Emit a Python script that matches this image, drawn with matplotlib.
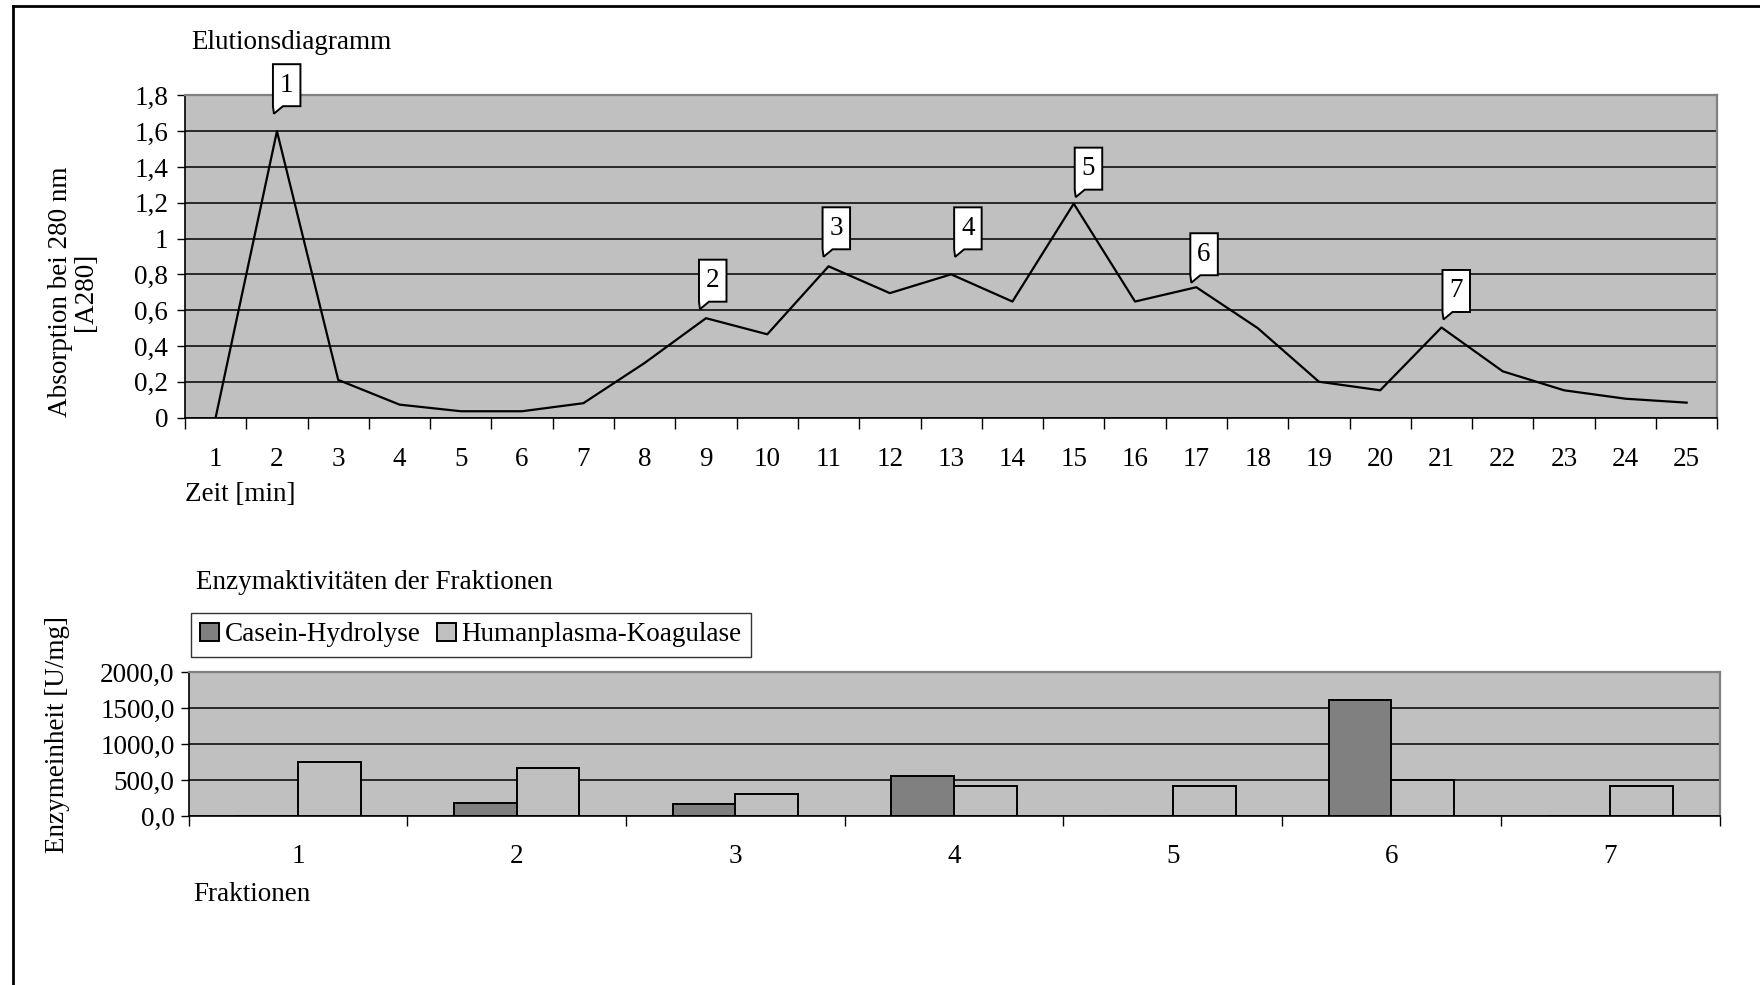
import numpy as np
import matplotlib
matplotlib.use('Agg')
import matplotlib.pyplot as plt
from matplotlib.path import Path
from matplotlib.patches import PathPatch
from matplotlib.lines import Line2D
from matplotlib import transforms

plt.rcParams['font.family'] = ['Liberation Serif', 'DejaVu Serif']
FS = 19.5

# Elutionsdiagramm
zeit = list(range(1, 26))
absorption = [0, 1.6, 0.21, 0.072, 0.035, 0.035, 0.08, 0.305, 0.555, 0.465,
              0.845, 0.695, 0.8, 0.648, 1.195, 0.648, 0.728, 0.5, 0.2, 0.152,
              0.503, 0.258, 0.152, 0.105, 0.083]
peak_zeit = [2, 9, 11, 13, 15, 17, 21]
peak_labels = ['1', '2', '3', '4', '5', '6', '7']

# Enzymaktivitäten
fraktionen = ['1', '2', '3', '4', '5', '6', '7']
casein = [0, 186, 163, 560, 0, 1611, 0]
koagulase = [755, 667, 303, 421, 421, 500, 421]

W, H = 1760, 985
fig = plt.figure(figsize=(W / 100, H / 100), dpi=100)


def px_axes(l, t, r, b):
    return fig.add_axes([l / W, 1 - b / H, (r - l) / W, (b - t) / H])


def style_axes(ax):
    ax.set_facecolor('#C0C0C0')
    ax.set_axisbelow(True)
    ax.grid(axis='y', color='black', linewidth=1.1)
    for s in ['top', 'right']:
        ax.spines[s].set_color('#808080')
        ax.spines[s].set_linewidth(1.6)
    for s in ['left', 'bottom']:
        ax.spines[s].set_color('black')
        ax.spines[s].set_linewidth(1.2)


# ---- top chart ----
ax1 = px_axes(185, 95.4, 1717.3, 417.5)
style_axes(ax1)
ax1.plot(zeit, absorption, color='black', linewidth=1.6, zorder=3)
ax1.set_xlim(0.5, 25.5)
ax1.set_ylim(0, 1.8)
ax1.set_yticks(np.arange(0, 1.81, 0.2))
ax1.yaxis.set_major_formatter(plt.FuncFormatter(lambda v, p: f'{round(v, 1):g}'.replace('.', ',')))
ax1.set_xticks(np.arange(0.5, 26, 1), labels=[])
ax1.set_xticks(zeit, labels=[str(z) for z in zeit], minor=True)
ax1.tick_params(axis='x', which='major', length=8, width=1, color='black')
ax1.tick_params(axis='x', which='minor', length=0, pad=21, labelsize=FS)
ax1.tick_params(axis='y', length=6, width=1, pad=6, labelsize=FS)

# callouts (offsets in px: dx from peak, gap above peak)
callout_offsets = [(-4, 25), (-7, 16.5), (-6, 17), (3, 25), (1, 14), (-6, 12), (1, 15.5)]
bw, bh = 27.5, 42
for xz, lab, (dx, gap) in zip(peak_zeit, peak_labels, callout_offsets):
    yv = absorption[zeit.index(xz)]
    tr = fig.dpi_scale_trans + transforms.ScaledTranslation(xz, yv, ax1.transData)
    verts = [(dx, gap), (dx + 1, gap - 7.5), (dx + 10, gap), (dx + bw, gap),
             (dx + bw, gap + bh), (dx, gap + bh), (dx, gap)]
    verts = [(a / 100, b / 100) for a, b in verts]
    codes = [Path.MOVETO] + [Path.LINETO] * 5 + [Path.CLOSEPOLY]
    ax1.add_patch(PathPatch(Path(verts, codes), transform=tr, facecolor='white',
                            edgecolor='black', linewidth=1.4, clip_on=False, zorder=5))
    ax1.text((dx + bw / 2) / 100, (gap + bh / 2) / 100, lab, transform=tr,
             ha='center', va='center', fontsize=FS, zorder=6, clip_on=False)

fig.text(191 / W, 1 - 42.6 / H, 'Elutionsdiagramm', fontsize=FS, ha='left', va='center')
fig.text(185 / W, 1 - 495 / H, 'Zeit [min]', fontsize=FS, ha='left', va='center')
fig.text(73 / W, 1 - 292 / H, 'Absorption bei 280 nm\n[A280]', fontsize=FS,
         rotation=90, ha='center', va='center', multialignment='center', linespacing=1.05)

# ---- bottom chart ----
ax2 = px_axes(188.6, 672.3, 1719.5, 816)
style_axes(ax2)
pos = np.arange(1, len(fraktionen) + 1)
bar_w = 0.287
ax2.bar(pos - bar_w / 2, casein, width=bar_w, color='#808080', edgecolor='black',
        linewidth=1.4, label='Casein-Hydrolyse', zorder=3)
ax2.bar(pos + bar_w / 2, koagulase, width=bar_w, color='#C0C0C0', edgecolor='black',
        linewidth=1.4, label='Humanplasma-Koagulase', zorder=3)
ax2.set_xlim(0.5, len(fraktionen) + 0.5)
ax2.set_ylim(0, 2000)
ax2.set_yticks(np.arange(0, 2001, 500))
ax2.yaxis.set_major_formatter(plt.FuncFormatter(lambda v, p: f'{v:.1f}'.replace('.', ',')))
ax2.set_xticks(np.arange(0.5, len(fraktionen) + 1, 1), labels=[])
ax2.set_xticks(pos, labels=fraktionen, minor=True)
ax2.tick_params(axis='x', which='major', length=7, width=1, color='black')
ax2.tick_params(axis='x', which='minor', length=0, pad=20, labelsize=FS)
ax2.tick_params(axis='y', length=6, width=1, pad=4, labelsize=FS)

leg = fig.legend(loc='upper left', bbox_to_anchor=(191 / W, 1 - 613 / H), ncol=2,
                 fontsize=FS, frameon=True, fancybox=False, borderaxespad=0,
                 handlelength=0.7, handleheight=0.7, handletextpad=0.2,
                 columnspacing=0.6, borderpad=0.35)
leg.get_frame().set_edgecolor('black')
leg.get_frame().set_linewidth(1.0)

fig.text(196.4 / W, 1 - 582.5 / H, 'Enzymaktivitäten der Fraktionen', fontsize=FS,
         ha='left', va='center')
fig.text(193 / W, 1 - 894.6 / H, 'Fraktionen', fontsize=FS, ha='left', va='center')
fig.text(58 / W, 1 - 734.6 / H, 'Enzymeinheit [U/mg]', fontsize=FS, rotation=90,
         ha='center', va='center')

# outer frame (left and top edges)
fig.add_artist(Line2D([13 / W, 13 / W], [0, 1 - 6 / H], color='black', linewidth=2,
                      transform=fig.transFigure))
fig.add_artist(Line2D([13 / W, 1], [1 - 6 / H, 1 - 6 / H], color='black', linewidth=2,
                      transform=fig.transFigure))

fig.savefig('out.png', dpi=100)
